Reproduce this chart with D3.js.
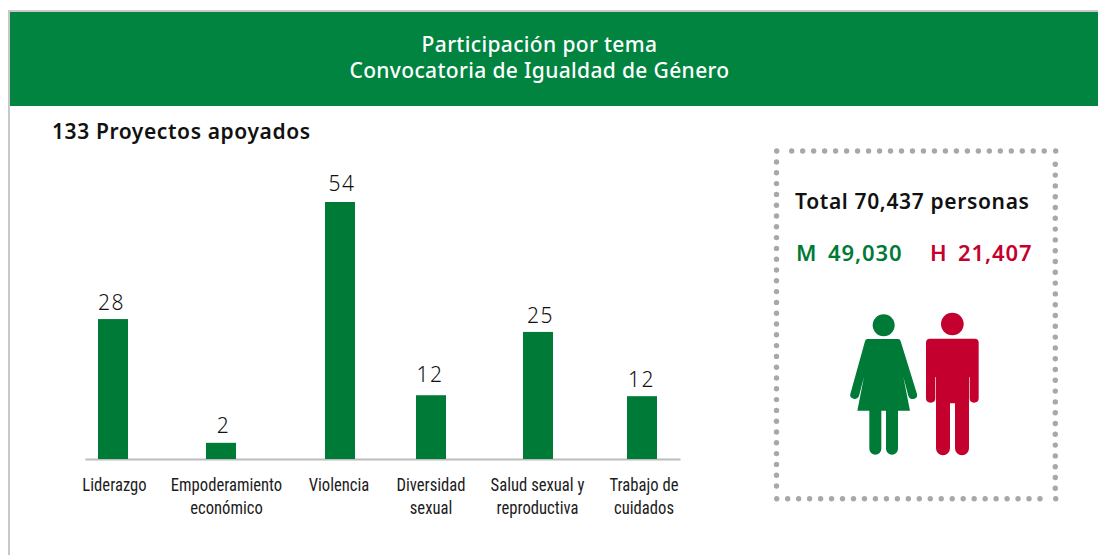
<!DOCTYPE html>
<html lang="es">
<head>
<meta charset="utf-8">
<script src="https://cdn.jsdelivr.net/npm/d3@7"></script>
<style>
html,body{margin:0;padding:0;background:#fff;overflow:hidden}
svg{display:block}
text{font-family:"Noto Sans",sans-serif}
.cat{font-family:"Liberation Sans Narrow","Roboto Condensed",sans-serif;font-size:18px;fill:#1c1c1c;text-anchor:middle}
.val{font-family:"Noto Sans",sans-serif;font-weight:300;font-size:21px;fill:#111;text-anchor:middle;letter-spacing:1.6px}
</style>
</head>
<body>
<div id="chart"></div>
<script>
const categories = ["Liderazgo", "Empoderamiento económico", "Violencia", "Diversidad sexual", "Salud sexual y reproductiva", "Trabajo de cuidados"];
const categoryLines = [["Liderazgo"], ["Empoderamiento", "económico"], ["Violencia"], ["Diversidad", "sexual"], ["Salud sexual y", "reproductiva"], ["Trabajo de", "cuidados"]];
const printedValues = [28, 2, 54, 12, 25, 12];
// The source graphic's bars are not strictly proportional to its printed numbers:
// these are the bar lengths, in units of the tallest bar (54).
const drawnLengths = [29.4, 3.4, 54, 13.4, 26.7, 13.2];
const titleLines = ["Participación por tema", "Convocatoria de Igualdad de Género"];
const subtitle = "133 Proyectos apoyados";
const totalLabel = "Total 70,437 personas";
const womenLabel = "M", womenCount = "49,030", menLabel = "H", menCount = "21,407";

const W = 1098, H = 555;
const GREEN_HEAD = "#00843F", GREEN = "#007A37", RED = "#C4002F", GREY = "#A7A8AA";

const svg = d3.select("#chart").append("svg").attr("width", W).attr("height", H);

// page frame and header
svg.append("rect").attr("x", 8).attr("y", 10).attr("width", W - 8).attr("height", H - 10).attr("fill", "#c8c8c8");
svg.append("rect").attr("x", 10).attr("y", 12).attr("width", W - 10).attr("height", H - 12).attr("fill", "#fff");
svg.append("rect").attr("x", 10).attr("y", 12).attr("width", W - 10).attr("height", 94).attr("fill", GREEN_HEAD);
svg.selectAll("text.title").data(titleLines).join("text").attr("class", "title")
  .attr("x", 539.5).attr("y", (d, i) => 52 + i * 26)
  .attr("text-anchor", "middle").attr("fill", "#fff")
  .attr("font-size", 21).attr("font-weight", 500).attr("letter-spacing", 0.35).text(d => d);
svg.append("text").attr("x", 52).attr("y", 139).attr("font-size", 21).attr("font-weight", 600)
  .attr("letter-spacing", 0.6).attr("fill", "#111").text(subtitle);

// scales
const x = d3.scaleOrdinal().domain(categories).range([113, 221, 340, 431, 538, 642]);
const labelX = d3.scaleOrdinal().domain(categories).range([114.5, 226.5, 339, 431, 537.5, 644]);
const valueX = d3.scaleOrdinal().domain(categories).range([111.5, 223.5, 342, 430, 540.5, 641.5]);
const y = d3.scaleLinear().domain([0, 54]).range([459, 202]);
const barW = 30;
const valueGap = [9, 10, 11, 13, 9, 9];

// axis line
const axis = svg.append("g").attr("transform", "translate(0,459)")
  .call(d3.axisBottom(d3.scaleLinear().domain([85, 680]).range([85, 680])).tickValues([]).tickSize(0).tickSizeOuter(0));
axis.select("path").attr("stroke", "#bcbcbc").attr("stroke-width", 2);

// bars
svg.selectAll("rect.bar").data(categories).join("rect").attr("class", "bar")
  .attr("x", d => x(d) - barW / 2).attr("width", barW)
  .attr("y", (d, i) => y(drawnLengths[i])).attr("height", (d, i) => y(0) - y(drawnLengths[i]))
  .attr("fill", GREEN);

// value labels
svg.selectAll("text.val").data(categories).join("text").attr("class", "val")
  .attr("x", d => valueX(d))
  .attr("y", (d, i) => y(drawnLengths[i]) - valueGap[i])
  .text((d, i) => printedValues[i]);

// category labels
const cat = svg.selectAll("text.cat").data(categories).join("text").attr("class", "cat")
  .attr("transform", d => `translate(${labelX(d)},491) scale(0.925,1)`);
cat.selectAll("tspan").data((d, i) => categoryLines[i]).join("tspan")
  .attr("x", 0).attr("y", (d, i) => i * 23).text(d => d);

// dotted box
const dots = (pts) => svg.append("g").selectAll("circle").data(pts).join("circle")
  .attr("cx", d => d[0]).attr("cy", d => d[1]).attr("r", 2.7).attr("fill", GREY);
const rowTop = [[776.7, 151]].concat(d3.range(24).map(i => [791.7 + i * 10.98, 151]), [[1055.7, 151]]);
const rowBottom = d3.range(25).map(i => [776.7 + i * 10.97, 498.7]).concat([[1055.7, 498.7]]);
const colLeft = d3.range(31).map(i => [776.5, 162 + i * 10.8]);
const colRight = d3.range(31).map(i => [1055.3, 164.3 + i * 10.8]);
dots(rowTop); dots(rowBottom); dots(colLeft); dots(colRight);

// totals
svg.append("text").attr("x", 795).attr("y", 209).attr("font-size", 21).attr("font-weight", 600)
  .attr("letter-spacing", 0.65).attr("fill", "#111").text(totalLabel);
const tot = [[796, womenLabel, GREEN], [828, womenCount, GREEN], [930, menLabel, RED], [958, menCount, RED]];
svg.selectAll("text.tot").data(tot).join("text").attr("class", "tot")
  .attr("x", d => d[0]).attr("y", 261).attr("font-size", 22).attr("font-weight", 600)
  .attr("letter-spacing", 0.9).attr("fill", d => d[2]).text(d => d[1]);

// figures, drawn in crop units (1/3 px)
const fig = svg.append("g").attr("transform", "translate(770,140) scale(0.33333)");
fig.append("circle").attr("cx", 341).attr("cy", 556).attr("r", 33).attr("fill", GREEN);
fig.append("path").attr("fill", GREEN).attr("d",
  "M292,597 L384,597 Q390,597 392,604 L441,762 Q444,774 431,777 Q419,779 415,768 L400,710 L420,812 L384,812 L384,926 A18,18 0 0 1 348,926 L348,812 L334,812 L334,926 A18,18 0 0 1 298,926 L298,812 L262,812 L282,710 L267,768 Q263,779 251,776 Q238,773 241,762 L285,604 Q287,597 292,597 Z");
fig.append("circle").attr("cx", 547).attr("cy", 552).attr("r", 34).attr("fill", RED);
fig.append("path").attr("fill", RED).attr("d",
  "M480,596 L614,596 Q626,596 626,608 L626,775 Q626,788 612,788 Q599,788 599,775 L599,712 L597,712 L597,925 A21,21 0 0 1 555,925 L555,790 L540,790 L540,925 A21,21 0 0 1 498,925 L498,712 L496,712 L496,775 Q496,788 482,788 Q468,788 468,775 L468,608 Q468,596 480,596 Z");
</script>
</body>
</html>
